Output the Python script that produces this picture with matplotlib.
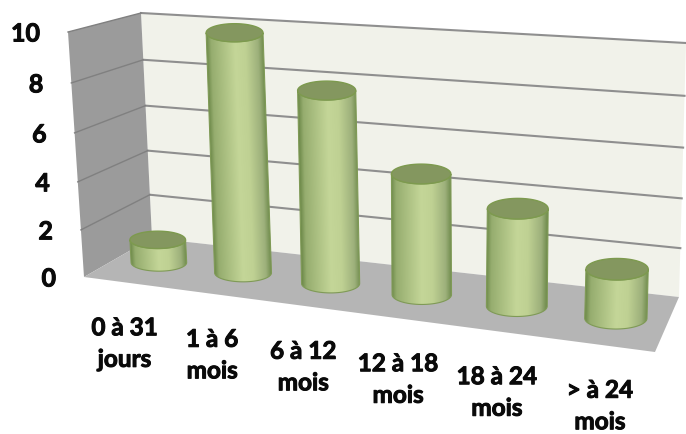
import numpy as np
import matplotlib
matplotlib.use('Agg')
import matplotlib.pyplot as plt
import matplotlib.patheffects as pe
from matplotlib.colors import LinearSegmentedColormap

categories = ['0 à 31\njours', '1 à 6\nmois', '6 à 12\nmois', '12 à 18\nmois', '18 à 24\nmois', '> à 24\nmois']
values = [1, 10, 8, 5, 4, 2]
y_ticks = [0, 2, 4, 6, 8, 10]
y_max = 10

plt.rcParams['font.family'] = ['Lato', 'DejaVu Sans']

# box corners in picture pixels: (front/back, left/right, floor/top)
floor_fl, floor_fr = np.array([84., 277.]), np.array([655., 352.])
floor_bl, floor_br = np.array([152., 238.]), np.array([679., 297.])
top_fl, top_fr = np.array([68., 32.]), np.array([665., 92.])
top_bl, top_br = np.array([141., 13.]), np.array([686., 43.])


def warp(f, w):
    return f / (f + w * (1 - f))


def project(pos, depth, val):
    # pos: 0..n categories, depth: 0 front..1 back, val: chart value
    t = warp(pos / len(categories), 1.13)
    h = warp(val / y_max, 1.05)
    floor = (floor_fl + (floor_fr - floor_fl) * t) * (1 - depth) + (floor_bl + (floor_br - floor_bl) * t) * depth
    top = (top_fl + (top_fr - top_fl) * t) * (1 - depth) + (top_bl + (top_br - top_bl) * t) * depth
    return floor + (top - floor) * h


fig = plt.figure(figsize=(6.86, 4.34), dpi=100)
ax = fig.add_axes([0, 0, 1, 1])
n = len(categories)
bold = [pe.withStroke(linewidth=0.7, foreground='#0a0a0a')]


def poly(pts, **kw):
    pts = np.array(pts)
    ax.fill(pts[:, 0], pts[:, 1], **kw)


# walls and floor
poly([project(0, 1, 0), project(n, 1, 0), project(n, 1, y_max), project(0, 1, y_max)], color='#f1f2ea', lw=0, zorder=1)
poly([project(0, 0, 0), project(0, 1, 0), project(0, 1, y_max), project(0, 0, y_max)], color='#9b9b9b', lw=0, zorder=1)
poly([project(0, 0, 0), project(n, 0, 0), project(n, 1, 0), project(0, 1, 0)], color='#b5b5b5', lw=0, zorder=2)

for v in y_ticks:
    a, b, c = project(0, 0, v), project(0, 1, v), project(n, 1, v)
    if v > 0:
        ax.plot([b[0], c[0]], [b[1], c[1]], color='#8f8f8f', lw=1.5, zorder=1.5)
        ax.plot([a[0], b[0]], [a[1], b[1]], color='#808080', lw=1.0, zorder=1.5)
    ax.text(a[0] - 28, a[1] + 2, str(v), ha='right', va='center', fontsize=18, fontweight='bold',
            color='#0a0a0a', path_effects=bold)

# cylinder shading, left edge to right edge
shade = LinearSegmentedColormap.from_list('cyl', [(0, '#6f8b4b'), (0.08, '#96ad6f'), (0.5, '#c4d698'),
                                                  (0.68, '#bfd193'), (0.9, '#9db07b'), (1, '#6f8b4c')])
top_color = '#84975f'
for i, val in enumerate(values):
    t = warp((i + 0.5) / n, 1.13)
    base = project(i + 0.5, 0.5, 0)
    head = project(i + 0.5, 0.5, val)
    hw = 27.5 + 4 * t
    hh = 8.5 + 2.5 * t

    # body outline, then a gradient image that follows the lean of the cylinder
    th = np.linspace(np.pi, 0, 80)
    xs = np.concatenate([head[0] + hw * np.cos(th), base[0] + hw * np.cos(th[::-1])])
    ys = np.concatenate([head[1] + hh * np.sin(th), base[1] + hh * np.sin(th[::-1])])
    outline = ax.fill(xs, ys, facecolor='none', edgecolor='#7f9a56', lw=0.8, zorder=3.002 + i * 0.01)[0]
    x0, x1, y0, y1 = xs.min() - 2, xs.max() + 2, head[1] - 2, ys.max() + 2
    gx, gy = np.meshgrid(np.linspace(x0, x1, 240), np.linspace(y0, y1, 400))
    frac = (gy - head[1]) / (base[1] - head[1])
    cx = head[0] + (base[0] - head[0]) * frac
    u = np.clip((gx - cx) / hw, -1, 1)
    img = ax.imshow(shade((u + 1) / 2), extent=[x0, x1, y1, y0], aspect='auto', interpolation='bilinear',
                    zorder=3 + i * 0.01)
    img.set_clip_path(outline)

    a = np.linspace(0, 2 * np.pi, 100)
    ax.fill(head[0] + hw * np.cos(a), head[1] + hh * np.sin(a), facecolor=top_color, edgecolor='#7d9a4e',
            lw=1.0, zorder=3.005 + i * 0.01)
    # category label follows the front edge of the floor
    front = project(i + 0.5, 0, 0)
    ax.text(front[0] - 2, front[1] + 61, categories[i], ha='center', va='center', fontsize=17.5,
            fontweight='bold', color='#0a0a0a', linespacing=1.45, zorder=5, path_effects=bold)

ax.set_xlim(0, 686)
ax.set_ylim(434, 0)
ax.axis('off')

fig.savefig('out.png', dpi=100)
